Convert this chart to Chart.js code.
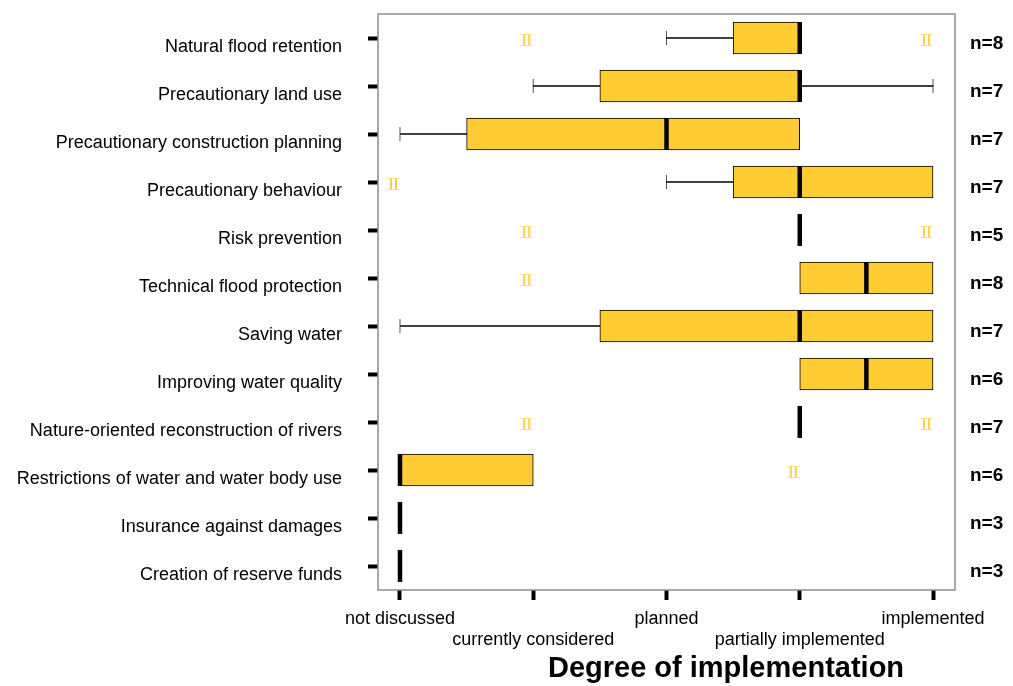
<!DOCTYPE html>
<html>
<head>
<meta charset="utf-8">
<script src="https://cdn.jsdelivr.net/npm/chart.js@4.4.1/dist/chart.umd.min.js"></script>
<style>
	body { margin: 0; background: #fff; }
</style>
</head>
<body>
<canvas id="implementationChart" width="1013" height="686"></canvas>
<script>
// DEGREE OF IMPLEMENTATION
// levels: 0 not discussed .. 4 implemented

const measures = [
	"Natural flood retention",
	"Precautionary land use",
	"Precautionary construction planning",
	"Precautionary behaviour",
	"Risk prevention",
	"Technical flood protection",
	"Saving water",
	"Improving water quality",
	"Nature-oriented reconstruction of rivers",
	"Restrictions of water and water body use",
	"Insurance against damages",
	"Creation of reserve funds",
];

const counts = ["n=8", "n=7", "n=7", "n=7", "n=5", "n=8", "n=7", "n=6", "n=7", "n=6", "n=3", "n=3"];

const levels = [
	"not discussed",
	"currently considered",
	"planned",
	"partially implemented",
	"implemented",
];

const whiskerLow = [2, 1, 0, 2, null, null, 0, null, null, null, null, null];
const boxLow = [2.5, 1.5, 0.5, 2.5, null, 3, 1.5, 3, null, 0, null, null];
const medians = [3, 3, 2, 3, 3, 3.5, 3, 3.5, 3, 0, 0, 0];
const boxHigh = [3, 3, 3, 4, null, 4, 4, 4, null, 1, null, null];
const whiskerHigh = [null, 4, null, null, null, null, null, null, null, null, null, null];

// outliers: [measure index, level]
const outliers = [[0, 1], [0, 4], [3, 0], [4, 1], [4, 4], [5, 1], [8, 1], [8, 4], [9, 3]];

// build the series for the library
const boxes = boxLow.map((lo, i) => (lo === null ? null : [lo, boxHigh[i]]));
const lowWhiskers = whiskerLow.map((w, i) => (w === null ? null : [w, boxLow[i]]));
const highWhiskers = whiskerHigh.map((w, i) => (w === null ? null : [boxHigh[i], w]));
const whiskerEnds = [];
whiskerLow.forEach((w, i) => { if (w !== null) whiskerEnds.push({ x: w, y: measures[i] }); });
whiskerHigh.forEach((w, i) => { if (w !== null) whiskerEnds.push({ x: w, y: measures[i] }); });
const medianPoints = medians.map((m, i) => ({ x: m, y: measures[i] }));
const outlierPoints = outliers.map(([i, v]) => ({ x: v, y: measures[i] }));

// little yellow "II" glyph used for outliers (sits a bit left of its value)
function outlierGlyph() {
	const c = document.createElement("canvas");
	c.width = 26;
	c.height = 16;
	const g = c.getContext("2d");
	g.fillStyle = "#fde08a";
	g.fillRect(0, 4, 13, 1);
	g.fillRect(0, 15, 13, 1);
	g.fillStyle = "#f9cf45";
	g.fillRect(3, 5, 2, 10);
	g.fillRect(8, 5, 2, 10);
	return c;
}

Chart.defaults.font.family = '"Liberation Sans", Arial, sans-serif';
Chart.defaults.color = "#000";

const frame = {
	id: "frame",
	beforeDatasetsDraw(chart) {
		const { ctx, chartArea: a } = chart;
		ctx.save();
		ctx.strokeStyle = "#8f8f8f";
		ctx.lineWidth = 1.5;
		ctx.strokeRect(a.left, a.top, a.right - a.left, a.bottom - a.top);
		ctx.restore();
	},
	afterDraw(chart) {
		const ctx = chart.ctx;
		ctx.save();
		ctx.font = 'bold 29px "Liberation Sans", Arial, sans-serif';
		ctx.fillStyle = "#000";
		ctx.textAlign = "center";
		ctx.textBaseline = "alphabetic";
		ctx.fillText("Degree of implementation", 726, 677);
		ctx.restore();
	},
};

// fixed axis sizes, no extra label padding
const fixSize = (w, h) => (scale) => {
	if (w) scale.width = w;
	if (h) scale.height = h;
	scale.paddingTop = 0;
	scale.paddingBottom = 0;
	scale.paddingLeft = 0;
	scale.paddingRight = 0;
};

const config = {
	type: "bar",
	data: {
		labels: measures,
		datasets: [
			{
				type: "scatter",
				label: "Median",
				data: medianPoints,
				yAxisID: "y",
				pointStyle: "line",
				rotation: 90,
				radius: 16,
				borderWidth: 4.5,
				borderColor: "#000",
				order: 0,
			},
			{
				label: "Box",
				data: boxes,
				yAxisID: "y",
				backgroundColor: "#ffcc33",
				borderColor: "#000",
				borderWidth: 1,
				borderSkipped: false,
				barThickness: 32,
				grouped: false,
				order: 1,
			},
			{
				label: "Lower whisker",
				data: lowWhiskers,
				yAxisID: "y",
				backgroundColor: "#000",
				barThickness: 1,
				grouped: false,
				order: 2,
			},
			{
				label: "Upper whisker",
				data: highWhiskers,
				yAxisID: "y",
				backgroundColor: "#000",
				barThickness: 1,
				grouped: false,
				order: 2,
			},
			{
				type: "scatter",
				label: "Whisker end",
				data: whiskerEnds,
				yAxisID: "y",
				pointStyle: "line",
				rotation: 90,
				radius: 7,
				borderWidth: 1,
				borderColor: "#555",
				order: 3,
			},
			{
				type: "scatter",
				label: "Outlier",
				data: outlierPoints,
				yAxisID: "y",
				pointStyle: outlierGlyph(),
				order: 4,
			},
		],
	},
	options: {
		indexAxis: "y",
		responsive: false,
		animation: false,
		layout: { autoPadding: false, padding: { top: 14 } },
		plugins: {
			legend: { display: false },
			tooltip: { enabled: false },
		},
		scales: {
			x: {
				type: "linear",
				min: -0.165,
				max: 4.165,
				afterBuildTicks: (scale) => {
					scale.ticks = levels.map((_, i) => ({ value: i }));
				},
				afterFit: fixSize(0, 96),
				border: { display: false },
				grid: {
					drawOnChartArea: false,
					drawTicks: true,
					tickLength: 10,
					tickWidth: 4,
					tickColor: "#000",
				},
				ticks: {
					autoSkip: false,
					maxRotation: 0,
					padding: 8,
					font: { size: 18 },
					callback: (value, index) => (index % 2 ? ["", levels[value]] : levels[value]),
				},
			},
			y: {
				type: "category",
				offset: true,
				afterFit: fixSize(378, 0),
				border: { display: false },
				grid: {
					offset: false,
					drawOnChartArea: false,
					drawTicks: true,
					tickLength: 10,
					tickWidth: 4,
					tickColor: "#000",
				},
				ticks: {
					autoSkip: false,
					padding: 26,
					labelOffset: 9,
					font: { size: 18 },
				},
			},
			y2: {
				type: "category",
				position: "right",
				labels: counts,
				offset: true,
				afterFit: fixSize(58, 0),
				border: { display: false },
				grid: { display: false, drawTicks: false },
				ticks: {
					autoSkip: false,
					padding: 15,
					labelOffset: 6,
					font: { size: 19, weight: "bold" },
				},
			},
		},
	},
	plugins: [frame],
};

const implementationChart = new Chart(
	document.getElementById("implementationChart"),
	config
);
</script>
</body>
</html>
